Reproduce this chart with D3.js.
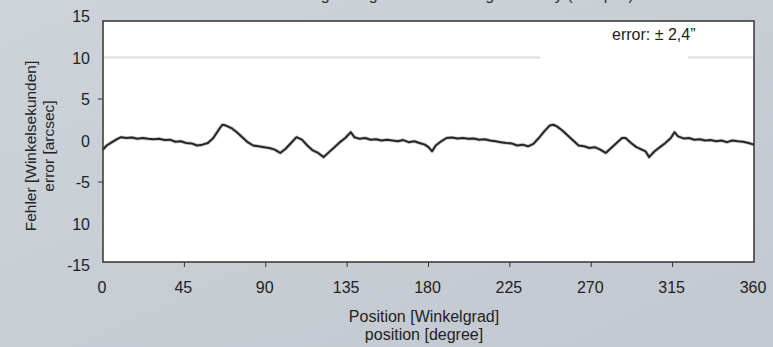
<!DOCTYPE html>
<html>
<head>
<meta charset="utf-8">
<script src="https://cdn.jsdelivr.net/npm/d3@7"></script>
<style>
  body { margin: 0; background: #c7cdd4; }
  svg { display: block; font-family: "Liberation Sans", Arial, sans-serif; }
</style>
</head>
<body>
<svg id="chart" width="773" height="347"></svg>
<script>
// position in degrees, error in arcsec
var positions = [0,2,5,8,10,13,16,19,22,25,28,31,34,37,40,43,46,49,52,55,58,61,64,66,68,71,74,77,80,83,86,89,92,95,98,101,104,107,110,113,116,119,122,125,128,131,134,137,139,142,145,148,151,154,157,160,163,166,169,172,175,178,180,182,184,187,190,193,196,199,202,205,208,211,214,217,220,223,226,229,232,235,238,241,244,247,249,251,254,257,260,263,266,269,272,275,278,281,284,287,289,292,295,298,300,302,305,308,311,314,316,318,321,324,327,330,333,336,339,342,345,348,351,354,357,360];
var errors = [-1.1,-0.6,-0.2,0.2,0.4,0.3,0.35,0.2,0.3,0.2,0.15,0.2,0.05,0.1,-0.15,-0.1,-0.3,-0.35,-0.6,-0.5,-0.3,0.3,1.3,1.9,1.8,1.5,1.0,0.4,-0.2,-0.6,-0.7,-0.8,-0.9,-1.1,-1.5,-1.0,-0.3,0.4,0.1,-0.6,-1.2,-1.5,-2.0,-1.4,-0.8,-0.2,0.3,1.0,0.4,0.2,0.3,0.1,0.15,0.0,0.1,0.0,-0.1,0.05,-0.2,-0.1,-0.3,-0.5,-0.8,-1.3,-0.6,-0.1,0.3,0.35,0.25,0.3,0.2,0.25,0.1,0.15,0.0,-0.1,-0.2,-0.3,-0.35,-0.6,-0.5,-0.7,-0.4,0.3,1.1,1.8,1.9,1.7,1.2,0.6,0.0,-0.6,-0.7,-0.9,-0.8,-1.1,-1.5,-0.9,-0.3,0.3,0.3,-0.3,-0.8,-1.1,-1.3,-2.0,-1.3,-0.8,-0.3,0.3,1.0,0.5,0.25,0.3,0.1,0.15,0.0,0.05,-0.1,0.0,-0.2,0.0,-0.1,-0.15,-0.3,-0.5];

var xTicks = [0, 45, 90, 135, 180, 225, 270, 315, 360];
var yTicks = [15, 10, 5, 0, -5, -10, -15];
var yTickLabels = ["15", "10", "5", "0", "-5", "10", "-15"];
var gridValue = 10;
var errorNote = "error: \u00B1 2,4\u201D";

var svg = d3.select("#chart");

// soft background
var defs = svg.append("defs");
var bg = defs.append("linearGradient").attr("id", "bg")
    .attr("x1", 0).attr("y1", 0).attr("x2", 1).attr("y2", 1);
bg.append("stop").attr("offset", "0%").attr("stop-color", "#cdd3d9");
bg.append("stop").attr("offset", "100%").attr("stop-color", "#c2c8cf");
svg.append("rect").attr("width", 773).attr("height", 347).attr("fill", "url(#bg)");

var box = {left: 103, right: 754, top: 21, bottom: 262};

var x = d3.scaleLinear().domain([0, 360]).range([box.left, box.right]);
var y = d3.scaleLinear().domain([-15, 15]).range([265, 16]);

// title, cropped by the top edge in the original (only descenders show)
svg.append("text")
    .attr("x", 440).attr("y", 0)
    .attr("text-anchor", "middle")
    .attr("font-size", 16).attr("fill", "#333")
    .text("Positioniergenauigkeit / Positioning accuracy (Beispiel)");

svg.append("rect")
    .attr("x", box.left).attr("y", box.top)
    .attr("width", box.right - box.left).attr("height", box.bottom - box.top)
    .attr("fill", "#ffffff");

// light grid line at 10, broken behind the note
svg.append("line")
    .attr("x1", box.left + 1).attr("x2", 540)
    .attr("y1", y(gridValue)).attr("y2", y(gridValue))
    .attr("stroke", "#dcdcdc").attr("stroke-width", 2);
svg.append("line")
    .attr("x1", 688).attr("x2", box.right - 1)
    .attr("y1", y(gridValue)).attr("y2", y(gridValue))
    .attr("stroke", "#dcdcdc").attr("stroke-width", 2);

svg.append("text")
    .attr("x", 612).attr("y", 40)
    .attr("font-size", 16).attr("fill", "#222")
    .text(errorNote);

// curve
var line = d3.line()
    .x(function(d, i) { return x(positions[i]); })
    .y(function(d) { return y(d); })
    .curve(d3.curveLinear);

svg.append("path")
    .datum(errors)
    .attr("d", line)
    .attr("fill", "none")
    .attr("stroke", "#777")
    .attr("stroke-width", 3.6)
    .attr("stroke-opacity", 0.4)
    .attr("stroke-linejoin", "round");
svg.append("path")
    .datum(errors)
    .attr("d", line)
    .attr("fill", "none")
    .attr("stroke", "#262626")
    .attr("stroke-width", 2)
    .attr("stroke-linejoin", "round");

// frame
svg.append("rect")
    .attr("x", box.left).attr("y", box.top)
    .attr("width", box.right - box.left).attr("height", box.bottom - box.top)
    .attr("fill", "none").attr("stroke", "#333").attr("stroke-width", 1.5);

// x ticks + labels
svg.selectAll(".xtick")
    .data(xTicks.filter(function(d) { return d > 0 && d < 360; }))
    .enter().append("line")
    .attr("x1", function(d) { return x(d); }).attr("x2", function(d) { return x(d); })
    .attr("y1", box.bottom).attr("y2", box.bottom + 5)
    .attr("stroke", "#333").attr("stroke-width", 1);

svg.selectAll(".xlab")
    .data(xTicks)
    .enter().append("text")
    .attr("x", function(d) { return x(d) - 1; })
    .attr("y", 293)
    .attr("text-anchor", "middle")
    .attr("font-size", 16).attr("fill", "#222")
    .text(function(d) { return d; });

// y ticks + labels
svg.selectAll(".ytick")
    .data([5, -5])
    .enter().append("line")
    .attr("x1", box.left - 5).attr("x2", box.left)
    .attr("y1", function(d) { return y(d); }).attr("y2", function(d) { return y(d); })
    .attr("stroke", "#333").attr("stroke-width", 1);

svg.selectAll(".ylab")
    .data(yTicks)
    .enter().append("text")
    .attr("x", 90)
    .attr("y", function(d) { return y(d) + 6; })
    .attr("text-anchor", "end")
    .attr("font-size", 16).attr("fill", "#222")
    .text(function(d, i) { return yTickLabels[i]; });

// axis titles
var yt = svg.append("text")
    .attr("transform", "translate(36,146) rotate(-90)")
    .attr("text-anchor", "middle")
    .attr("font-size", 15.5).attr("fill", "#222");
yt.append("tspan").attr("x", 0).attr("dy", 0).text("Fehler [Winkelsekunden]");
yt.append("tspan").attr("x", 0).attr("dy", 18).text("error [arcsec]");

svg.append("text")
    .attr("x", 424).attr("y", 322)
    .attr("text-anchor", "middle")
    .attr("font-size", 16).attr("fill", "#222")
    .text("Position [Winkelgrad]");
svg.append("text")
    .attr("x", 424).attr("y", 340)
    .attr("text-anchor", "middle")
    .attr("font-size", 16).attr("fill", "#222")
    .text("position [degree]");
</script>
</body>
</html>
